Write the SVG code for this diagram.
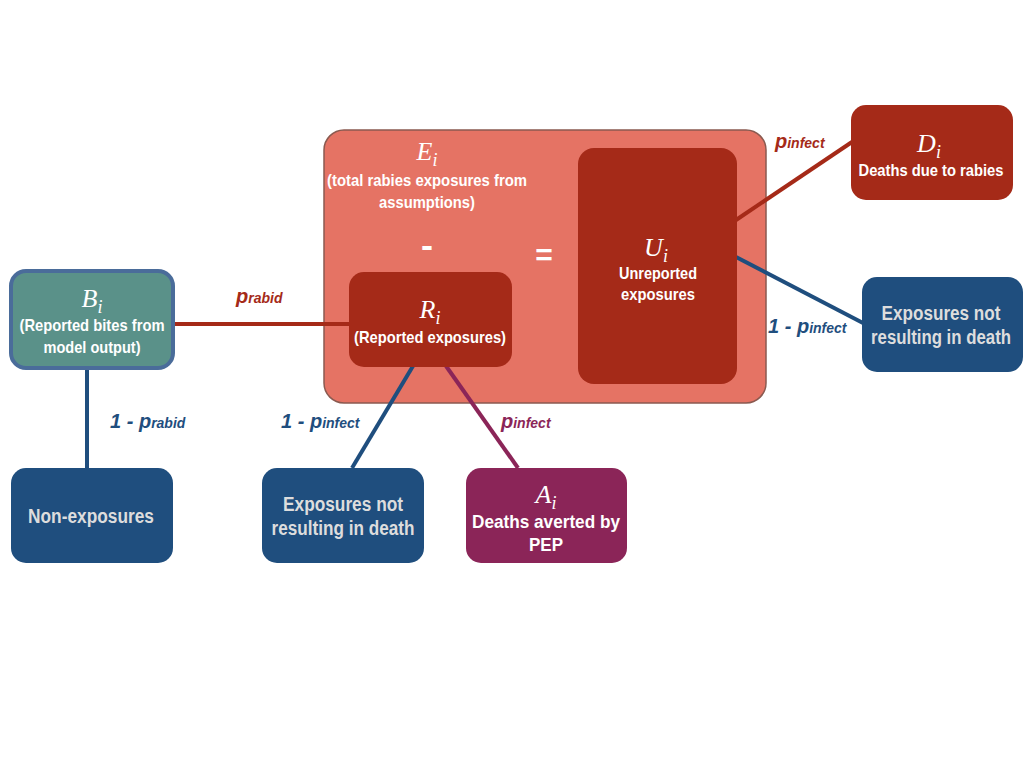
<svg xmlns="http://www.w3.org/2000/svg" width="1024" height="768" viewBox="0 0 1024 768">
  <style>
    .lbl { font-family: "Liberation Sans", sans-serif; font-weight: bold; fill: #ffffff; text-anchor: middle; }
    .lbl.grey { fill: #dddddd; }
    .math { font-family: "Liberation Serif", serif; font-style: italic; fill: #ffffff; text-anchor: middle; font-size: 26px; }
    .math tspan.sub { font-size: 18px; }
    .prob { font-family: "Liberation Sans", sans-serif; font-weight: bold; font-style: italic; font-size: 20px; }
    .prob tspan.sub { font-size: 14px; }
    .c-red { stroke: #a52a18; }
    .c-blue { stroke: #1f4e7e; }
    .c-purple { stroke: #8b2558; }
    .conn line { stroke-width: 4; fill: none; }
  </style>

  <rect width="1024" height="768" fill="#ffffff"/>

  <!-- E: total exposures container (drawn first so connectors sit on top) -->
  <g id="node-E">
    <rect x="324" y="130" width="442" height="273" rx="20" fill="#e57364" stroke="#8a5a50" stroke-width="1.5"/>
    <text class="math" x="427" y="160">E<tspan class="sub" dy="6">i</tspan></text>
    <text class="lbl" x="427" y="186" font-size="17" textLength="200" lengthAdjust="spacingAndGlyphs">(total rabies exposures from</text>
    <text class="lbl" x="427" y="208" font-size="17" textLength="96" lengthAdjust="spacingAndGlyphs">assumptions)</text>
    <text class="lbl" x="427" y="257" font-size="34" textLength="12" lengthAdjust="spacingAndGlyphs">-</text>
    <text class="lbl" x="544" y="265" font-size="30">=</text>
  </g>

  <!-- connectors -->
  <g id="connectors" class="conn">
    <line class="c-red" x1="174" y1="324" x2="350" y2="324"/>
    <line class="c-blue" x1="87" y1="369" x2="87" y2="468"/>
    <line class="c-blue" x1="413" y1="366" x2="352" y2="468"/>
    <line class="c-purple" x1="446" y1="366" x2="518" y2="468"/>
    <line class="c-red" x1="736" y1="220" x2="852" y2="142"/>
    <line class="c-blue" x1="736" y1="257" x2="863" y2="323"/>
  </g>

  <!-- probability labels -->
  <g id="probabilities">
    <text class="prob" x="236" y="303" fill="#a52a18">p<tspan class="sub">rabid</tspan></text>
    <text class="prob" x="110" y="428" fill="#1f4e7e">1 - p<tspan class="sub">rabid</tspan></text>
    <text class="prob" x="281" y="428" fill="#1f4e7e">1 - p<tspan class="sub">infect</tspan></text>
    <text class="prob" x="501" y="428" fill="#8b2558">p<tspan class="sub">infect</tspan></text>
    <text class="prob" x="775" y="148" fill="#a52a18">p<tspan class="sub">infect</tspan></text>
    <text class="prob" x="768" y="333" fill="#1f4e7e">1 - p<tspan class="sub">infect</tspan></text>
  </g>

  <!-- B: reported bites -->
  <g id="node-B">
    <rect x="11" y="271" width="162" height="97" rx="15" fill="#5a9189" stroke="#4a6c9a" stroke-width="4"/>
    <text class="math" x="92" y="307">B<tspan class="sub" dy="6">i</tspan></text>
    <text class="lbl" x="92" y="331" font-size="17" textLength="145" lengthAdjust="spacingAndGlyphs">(Reported bites from</text>
    <text class="lbl" x="92" y="353" font-size="17" textLength="97" lengthAdjust="spacingAndGlyphs">model output)</text>
  </g>

  <!-- R: reported exposures -->
  <g id="node-R">
    <rect x="349" y="272" width="163" height="95" rx="15" fill="#a52a18"/>
    <text class="math" x="430" y="318">R<tspan class="sub" dy="6">i</tspan></text>
    <text class="lbl" x="430" y="343" font-size="17" textLength="152" lengthAdjust="spacingAndGlyphs">(Reported exposures)</text>
  </g>

  <!-- U: unreported exposures -->
  <g id="node-U">
    <rect x="578" y="148" width="159" height="236" rx="16" fill="#a52a18"/>
    <text class="math" x="656" y="256">U<tspan class="sub" dy="6">i</tspan></text>
    <text class="lbl" x="658" y="279" font-size="17" textLength="78" lengthAdjust="spacingAndGlyphs">Unreported</text>
    <text class="lbl" x="658" y="300" font-size="17" textLength="74" lengthAdjust="spacingAndGlyphs">exposures</text>
  </g>

  <!-- D: deaths due to rabies -->
  <g id="node-D">
    <rect x="851" y="105" width="162" height="95" rx="15" fill="#a52a18"/>
    <text class="math" x="929" y="152">D<tspan class="sub" dy="6">i</tspan></text>
    <text class="lbl" x="931" y="176" font-size="17" textLength="145" lengthAdjust="spacingAndGlyphs">Deaths due to rabies</text>
  </g>

  <!-- exposures not resulting in death (unreported branch) -->
  <g id="node-N1">
    <rect x="862" y="277" width="161" height="95" rx="15" fill="#1f4e7e"/>
    <text class="lbl grey" x="941" y="320" font-size="20" textLength="119" lengthAdjust="spacingAndGlyphs">Exposures not</text>
    <text class="lbl grey" x="941" y="344" font-size="20" textLength="140" lengthAdjust="spacingAndGlyphs">resulting in death</text>
  </g>

  <!-- non-exposures -->
  <g id="node-NE">
    <rect x="11" y="468" width="162" height="95" rx="15" fill="#1f4e7e"/>
    <text class="lbl grey" x="91" y="523" font-size="20" textLength="126" lengthAdjust="spacingAndGlyphs">Non-exposures</text>
  </g>

  <!-- exposures not resulting in death (reported branch) -->
  <g id="node-N2">
    <rect x="262" y="468" width="162" height="95" rx="15" fill="#1f4e7e"/>
    <text class="lbl grey" x="343" y="511" font-size="20" textLength="120" lengthAdjust="spacingAndGlyphs">Exposures not</text>
    <text class="lbl grey" x="343" y="535" font-size="20" textLength="143" lengthAdjust="spacingAndGlyphs">resulting in death</text>
  </g>

  <!-- A: deaths averted -->
  <g id="node-A">
    <rect x="466" y="468" width="161" height="95" rx="15" fill="#8b2558"/>
    <text class="math" x="546" y="503">A<tspan class="sub" dy="6">i</tspan></text>
    <text class="lbl" x="546" y="528" font-size="19" textLength="148" lengthAdjust="spacingAndGlyphs">Deaths averted by</text>
    <text class="lbl" x="546" y="551" font-size="19" textLength="34" lengthAdjust="spacingAndGlyphs">PEP</text>
  </g>
</svg>
